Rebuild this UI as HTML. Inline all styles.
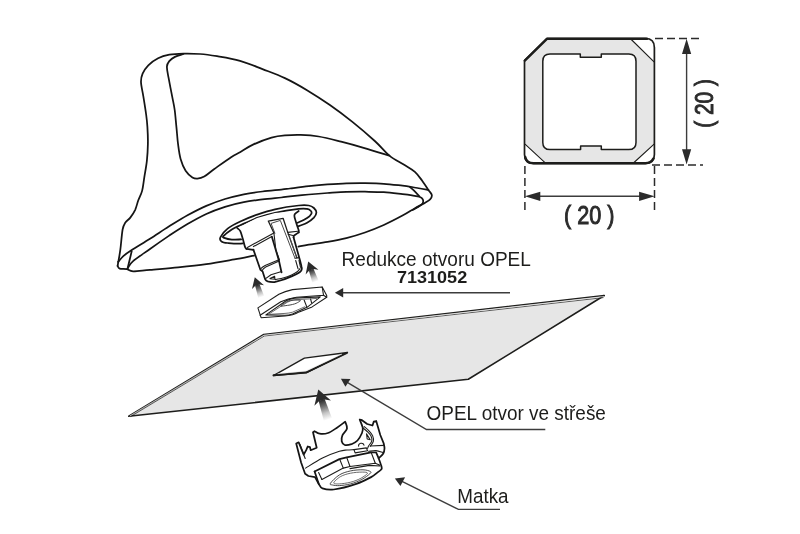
<!DOCTYPE html>
<html><head><meta charset="utf-8"><title>Redukce otvoru OPEL</title>
<style>
html,body{margin:0;padding:0;background:#fff}
svg{display:block;will-change:transform}
text{font-family:"Liberation Sans",sans-serif;fill:#1d1d1b}
.l{fill:none;stroke:#151515;stroke-width:1.75;stroke-linecap:round;stroke-linejoin:round}
.t{fill:none;stroke:#1d1d1b;stroke-width:1.1;stroke-linecap:round;stroke-linejoin:round}
.w{fill:#fff;stroke:#151515;stroke-width:1.75;stroke-linecap:round;stroke-linejoin:round}
.wt{fill:#fff;stroke:#1d1d1b;stroke-width:1.1;stroke-linecap:round;stroke-linejoin:round}
.d{fill:none;stroke:#2b2b2b;stroke-width:1.5;stroke-dasharray:8 4}
.k{fill:#2b2b2b;stroke:none}
.g{fill:none;stroke:#3c3c3c;stroke-width:1.4}
</style></head><body>
<svg width="800" height="534" viewBox="0 0 800 534">
<g id="profile">
<path d="M546.9 38.5H645.5Q654.4 38.5 654.4 47.5V154.5Q654.4 163.5 645.4 163.5H533.5Q524.5 163.5 524.5 154.5V60.6Z" fill="#e6e6e6" stroke="none"/>
<path d="M631.3 39.5H645.5Q653.6 39.5 653.6 47.5V61.6Z" fill="#fff"/>
<path d="M653.8 144.4V154.5Q653.8 162.7 645.4 162.7H634Z" fill="#fff"/>
<path d="M525.3 144.4V154.5Q525.3 162.7 533.5 162.7H545Z" fill="#fff"/>
<path class="t" d="M631.3 39.5L653.8 61.6M653.8 144.4L634 162.5M525.3 144.4L545 162.7"/>
<path d="M546.9 38.5H645.5Q654.4 38.5 654.4 47.5V154.5Q654.4 163.5 645.4 163.5H533.5Q524.5 163.5 524.5 154.5V60.6Z" fill="none" stroke="#1d1d1b" stroke-width="1.7" stroke-linejoin="round"/>
<path d="M647 38.8H546.9L524.8 60.6" fill="none" stroke="#1d1d1b" stroke-width="2.4" stroke-linejoin="round" stroke-linecap="round"/>
<path d="M525.2 157Q526.5 163.2 533.5 163.2H645.4Q651 163.2 653.4 158.5" fill="none" stroke="#1d1d1b" stroke-width="2.5" stroke-linejoin="round" stroke-linecap="round"/>
<path d="M550 54.1H580.3V57.3H601.3V54.1H628.8Q636 54.1 636 61.3V142.4Q636 149.6 628.8 149.6H601.3V145.9H580.6V149.6H550Q542.8 149.6 542.8 142.4V61.3Q542.8 54.1 550 54.1Z" fill="#fff" stroke="#1d1d1b" stroke-width="1.5" stroke-linejoin="round"/>
</g>
<g id="dims">
<path class="d" d="M655 38.6H703"/>
<path class="d" d="M652 164.9H703"/>
<path class="d" d="M524.9 166V212"/>
<path class="d" d="M654.5 166V214"/>
<path class="g" d="M686.6 48V155M534 196.3H645"/>
<path class="k" d="M686.6 38.8L682 54H691.2ZM686.6 164.5L682 149.3H691.2ZM524.8 196.3L540.3 191.7V200.9ZM654.6 196.3L639.1 191.7V200.9Z"/>
<text x="589.3" y="224.2" font-size="26" text-anchor="middle" textLength="50.5" lengthAdjust="spacingAndGlyphs" style="fill:#2b2b2b;stroke:#2b2b2b;stroke-width:1">( 20 )</text>
<text transform="translate(713.2 103.4) rotate(-90)" x="0" y="0" font-size="26" text-anchor="middle" textLength="48.5" lengthAdjust="spacingAndGlyphs" style="fill:#2b2b2b;stroke:#2b2b2b;stroke-width:1">( 20 )</text>
</g>
<g id="plate">
<path d="M128.8 416.3L263.8 334.5L604.3 295.5L468.3 379.3Z" fill="#e6e6e6" stroke="#1d1d1b" stroke-width="1.6" stroke-linejoin="round"/>
<path d="M130.5 416.6L264.3 336L603.5 297.6" fill="none" stroke="#1d1d1b" stroke-width=".7"/>
<path d="M129.8 416L264 335.2L604 296.5" fill="none" stroke="#f4f4f4" stroke-width=".7"/>
<path d="M273.4 375.6L304.4 358.1L347.5 352.5L306.3 372.8Z" fill="#fff" stroke="#1d1d1b" stroke-width="1.3" stroke-linejoin="round"/>
<path d="M273.6 375.3L306.2 372.3L347 352.8" fill="none" stroke="#1d1d1b" stroke-width="2" stroke-linejoin="round" stroke-linecap="round"/>
<path d="M277.5 373.7L305.8 371L342 354" fill="none" stroke="#e8e8e8" stroke-width=".6"/>
</g>
<g id="labels">
<text x="341.6" y="266" font-size="19.3" textLength="189.3" lengthAdjust="spacingAndGlyphs">Redukce otvoru OPEL</text>
<text x="396.9" y="282.7" font-size="16.6" font-weight="bold" textLength="70.3" lengthAdjust="spacingAndGlyphs">7131052</text>
<text x="426.6" y="420.2" font-size="19.3" textLength="179.3" lengthAdjust="spacingAndGlyphs">OPEL otvor ve střeše</text>
<text x="457.3" y="503" font-size="19.3" textLength="51.3" lengthAdjust="spacingAndGlyphs">Matka</text>
<path class="g" d="M342 292.7H510"/>
<path class="k" d="M334.9 292.7L343.2 288V297.4Z"/>
<path class="g" d="M545.3 429.5H426.5L346 381.6"/>
<path class="k" d="M340.9 378.7L350.5 378.9L345.4 386.8Z"/>
<path class="g" d="M500 509.4H458.4L400 480.4"/>
<path class="k" d="M394.9 478.4L405.1 477.3L400.4 485.9Z"/>
</g>
<g id="antenna">
<path class="w" d="M118.3 261.8C118.7 259.7 119.7 254.6 120.4 249.2C121.1 243.8 121.8 233.9 122.6 229.5C123.4 225.1 124.1 224.5 125.4 222.5C126.7 220.5 128.7 219.7 130.3 217.6C131.9 215.5 133.8 212.7 135.2 209.8C136.5 206.9 137.2 203.2 138.4 200.0C139.6 196.8 141.1 194.7 142.1 190.9C143.1 187.1 143.5 182.5 144.3 177.4C145.1 172.3 146.3 166.2 146.9 160.6C147.5 155.0 147.8 149.3 147.9 143.7C148.0 138.1 147.7 131.7 147.4 126.9C147.1 122.1 146.9 120.1 146.2 115.0C145.5 109.9 144.2 101.7 143.3 96.2C142.4 90.7 141.1 85.8 141.0 82.1C140.9 78.3 141.4 76.5 142.6 73.7C143.8 70.9 145.7 67.9 148.3 65.3C150.9 62.7 154.6 60.1 158.1 58.3C161.6 56.5 165.1 55.5 169.3 54.7C173.5 53.9 178.2 53.7 183.4 53.6C188.6 53.5 194.6 53.6 200.2 54.0C205.8 54.4 210.5 55.1 217.1 56.2C223.7 57.3 232.4 58.6 240.0 60.8C247.6 62.9 255.0 66.2 262.5 69.1C270.0 72.0 277.4 74.5 284.9 78.1C292.4 81.6 299.9 85.9 307.4 90.4C314.9 94.9 322.4 99.8 329.9 105.0C337.4 110.2 344.9 115.9 352.4 121.9C359.9 127.9 368.6 135.4 374.8 141.0C381.0 146.6 384.6 151.7 389.4 155.6C394.2 159.5 399.4 161.9 403.7 164.6C407.9 167.3 411.8 169.2 414.9 171.9C417.9 174.6 419.8 177.5 422.0 180.5C424.2 183.5 426.8 187.5 428.4 189.9C430.0 192.3 431.5 193.4 431.8 195.0C432.1 196.6 431.4 198.0 430.1 199.4C428.8 200.8 426.4 201.9 423.9 203.4C421.4 204.9 418.6 206.2 415.0 208.2C411.4 210.2 407.7 212.8 402.5 215.6C397.3 218.4 390.1 222.2 383.8 225.0C377.6 227.8 371.2 230.3 365.0 232.5C358.8 234.7 352.6 236.5 346.3 238.1C340.1 239.7 333.8 240.8 327.5 241.9C321.2 243.0 313.7 243.9 308.8 244.7C303.9 245.5 300.1 246.3 298.4 246.6"/>
<path class="l" d="M118.3 261.8L117.6 266"/>
<path class="l" d="M117.6 266.0C117.9 266.4 118.2 268.1 119.7 268.6C121.2 269.1 124.6 268.8 126.8 269.2C129.0 269.6 129.2 271.2 133.1 271.3C137.0 271.4 142.5 270.5 150.0 269.9C157.5 269.2 168.7 268.4 178.1 267.4C187.5 266.4 196.9 265.4 206.3 264.1C215.7 262.8 226.4 260.8 234.4 259.4C242.4 258.0 250.8 256.2 254.1 255.6"/>
<path class="l" d="M183.4 54.0C182.0 54.5 177.2 55.7 174.9 56.9C172.6 58.1 170.6 59.5 169.3 61.1C168.0 62.7 167.0 63.9 166.9 66.7C166.8 69.5 167.7 73.0 168.6 77.9C169.5 82.8 171.1 90.9 172.1 96.2C173.1 101.5 174.0 104.9 174.7 110.0C175.4 115.1 175.8 121.3 176.4 126.9C177.0 132.5 177.3 138.4 178.0 143.7C178.7 149.0 179.3 154.4 180.6 158.9C181.9 163.4 183.6 167.6 185.6 170.7C187.6 173.8 190.4 176.1 192.4 177.4C194.4 178.7 195.4 178.7 197.4 178.6C199.4 178.5 201.4 178.2 204.2 176.6C207.0 175.0 209.8 172.2 214.3 169.0C218.8 165.8 226.8 160.0 231.1 157.2C235.4 154.4 236.3 154.3 240.0 152.2C243.7 150.1 248.2 146.8 253.5 144.4C258.8 142.0 266.3 139.1 271.5 137.6C276.7 136.1 280.0 135.8 284.9 135.4C289.8 135.0 295.1 134.7 300.7 134.9C306.3 135.1 312.0 135.4 318.7 136.5C325.4 137.6 333.6 139.8 341.1 141.7C348.6 143.6 355.6 145.5 363.6 147.8C371.7 150.1 385.1 154.3 389.4 155.6"/>
<path class="l" d="M118.3 261.8C119.1 260.9 121.2 258.1 123.3 256.2C125.4 254.3 126.5 253.5 131.0 250.6C135.4 247.7 143.7 242.8 150.0 238.8C156.3 234.8 162.6 230.5 168.8 226.6C175.1 222.7 181.2 218.8 187.5 215.3C193.8 211.9 200.1 208.6 206.3 205.9C212.6 203.2 218.8 200.9 225.0 199.0C231.2 197.1 237.6 195.6 243.8 194.3C250.1 193.1 256.2 192.3 262.5 191.5C268.8 190.7 276.7 190.1 281.3 189.6C285.9 189.1 285.4 189.1 290.0 188.5C294.6 187.9 302.6 186.8 308.8 186.1C315.1 185.4 321.2 184.8 327.5 184.4C333.8 184.0 340.1 183.6 346.3 183.4C352.6 183.2 358.8 183.1 365.0 183.2C371.2 183.3 377.6 183.4 383.8 183.8C390.1 184.2 397.8 185.2 402.5 185.7C407.2 186.2 407.6 186.3 411.9 187.0C416.2 187.7 425.6 189.4 428.4 189.9"/>
<path class="l" d="M127.5 268.8C127.6 268.6 127.3 268.7 128.2 267.4C129.1 266.1 129.5 264.2 133.1 261.1C136.7 258.0 144.1 253.2 150.0 249.0C155.9 244.8 162.6 240.1 168.8 235.9C175.1 231.8 181.2 227.8 187.5 224.1C193.8 220.4 200.1 216.9 206.3 214.0C212.6 211.1 218.8 208.9 225.0 206.9C231.2 204.9 237.6 203.4 243.8 202.2C250.1 200.9 256.2 200.2 262.5 199.4C268.8 198.6 276.7 198.0 281.3 197.5C285.9 197.0 285.4 196.9 290.0 196.4C294.6 195.9 302.6 195.1 308.8 194.5C315.1 193.9 321.2 193.4 327.5 193.0C333.8 192.6 340.1 192.1 346.3 191.9C352.6 191.7 358.8 191.6 365.0 191.7C371.2 191.8 377.6 191.8 383.8 192.2C390.1 192.6 397.8 193.6 402.5 194.1C407.2 194.6 409.2 194.9 412.0 195.4C414.8 195.9 417.6 196.1 419.4 196.8C421.2 197.5 422.3 198.3 422.8 199.4C423.3 200.5 423.4 202.1 422.6 203.4C421.8 204.7 419.6 205.9 418.0 207.0C416.4 208.1 413.6 209.5 412.7 210.0"/>
<path class="l" d="M131.7 251.3L127.5 268.8"/>
<path class="l" d="M409.9 187.0C410.5 187.6 412.2 188.8 413.8 190.3C415.4 191.9 418.5 195.3 419.4 196.3"/>
</g>
<g id="mount">
<path class="w" d="M220.5 237.1C221.6 235.0 224.3 231.2 227.6 228.6C230.9 226.0 235.4 223.8 240.3 221.5C245.2 219.2 251.3 216.6 257.1 214.6C262.9 212.6 268.1 210.8 275.0 209.3C281.9 207.8 293.1 206.1 298.7 205.5C304.3 204.9 306.3 205.1 308.8 205.5C311.3 205.9 312.6 206.8 313.9 208.0C315.2 209.2 316.4 211.0 316.4 212.6C316.4 214.2 315.4 216.0 313.9 217.7C312.3 219.4 309.6 221.4 307.1 222.8C304.6 224.2 303.2 224.4 298.7 226.1C294.2 227.8 286.4 230.7 280.0 233.0C273.6 235.3 266.2 238.3 260.0 240.0C253.8 241.7 248.2 242.9 242.8 243.4C237.4 243.9 231.2 243.3 227.6 243.0C224.0 242.7 222.5 242.3 221.3 241.3C220.1 240.3 219.4 239.2 220.5 237.1Z"/>
<path class="w" d="M223.4 236.2C224.7 234.8 229.0 231.3 231.8 229.5C234.6 227.7 236.1 227.2 240.3 225.3C244.5 223.4 251.3 220.0 257.1 217.9C262.9 215.8 268.1 214.4 275.0 212.9C281.9 211.4 293.3 209.6 298.7 208.9C304.1 208.2 305.1 208.6 307.1 208.9C309.1 209.2 310.2 210.2 310.9 211.0C311.6 211.8 311.9 212.7 311.3 213.9C310.7 215.1 309.2 216.7 307.1 218.1C305.0 219.5 303.2 220.4 298.7 222.3C294.2 224.2 286.4 227.2 280.0 229.5C273.6 231.8 266.2 234.4 260.0 236.0C253.8 237.6 247.5 238.6 242.8 239.2C238.1 239.8 234.9 239.8 231.8 239.6C228.7 239.4 225.7 238.5 224.3 237.9C222.9 237.3 222.2 237.6 223.4 236.2Z"/>
<path d="M237.3 228.2L245 246.9L246.5 248.9L253.4 249.8L260.4 269.7L262.6 271.4L265.2 279.4Q267 282.3 274.4 282L283.7 279.4L292.1 276.1L298.9 272.7Q302 270.5 301.4 267L293.6 237.4L298.7 232.4V230.3L294.5 216.9Q294.5 213 298.7 211L275 212.9L257.1 217.9Z" fill="#fff" stroke="none"/>
<path class="l" d="M237.3 228.2C237.8 228.7 239.4 229.4 240.3 231.2C241.2 233.0 242.0 236.2 242.8 238.8C243.6 241.4 244.4 245.2 245.0 246.9C245.6 248.6 246.2 248.6 246.5 248.9"/>
<path class="l" d="M246.5 248.9L253.4 249.8"/>
<path class="l" d="M298.7 211.0C298.1 211.5 295.6 212.9 294.9 213.9C294.2 214.9 294.1 215.0 294.5 216.9C294.9 218.8 296.3 223.1 297.0 225.3C297.7 227.5 298.4 229.1 298.7 230.3C299.0 231.5 298.7 232.1 298.7 232.4"/>
<path class="l" d="M298.7 232.4L293.8 235.8L293.6 237.4"/>
<path class="t" d="M287.8 232.4L297.8 231.2M288.2 234.3L293.8 235.8"/>
<path class="t" d="M247.4 247.4L262 239.4L273.9 233.1"/>
<path class="t" d="M253.4 246.6L271.8 236.6"/>
<path d="M273.9 233.1L268.3 221.1L283.1 218.3L288 233.1L297.1 258.3" fill="none" stroke="#1d1d1b" stroke-width="1.3" stroke-linejoin="round"/>
<path d="M271.1 223.4L280.3 220.4L295 258.3" fill="none" stroke="#333" stroke-width=".9" stroke-linejoin="round"/>
<path d="M271.1 223.4L275 233.6" fill="none" stroke="#333" stroke-width=".9"/>
<path d="M289.6 237.3L296.4 256.9" fill="none" stroke="#555" stroke-width=".8"/>
<path class="l" d="M253.4 249.6L260.4 269.7L262.6 271.4L265.2 279.4Q266.8 282.4 274.4 282.1Q284 280 292.1 276.1Q297 274 298.9 272.7Q302.6 270.5 301.6 267L300.1 260.8L293.6 237.4"/>
<path class="t" d="M260.5 269Q262 267 265.1 265.4L278.9 259.8M261.8 271Q263 268.6 265.7 267L279.2 261.1"/>
<path class="l" d="M271.8 236.6L278.9 260.5L281.5 272.3"/>
<path class="t" d="M273.9 233.1L275.9 250L279.4 259.6"/>
<path class="t" d="M265.6 278.6L271 274.8L281.6 271.4"/>
<path class="t" d="M275.3 279.6C276.8 279.3 281.2 278.6 284.0 277.8C286.8 277.0 289.9 275.8 292.1 274.8C294.3 273.8 295.9 272.8 297.2 271.8C298.5 270.8 299.5 269.1 300.0 268.6"/>
<path class="t" d="M270 278.6L274.6 276.2L275 279.2Z"/>
<path class="t" d="M295 258.3L299.4 257.6M295.7 260.5L298 268.6M299 260.3L300.5 267.3"/>
</g>
<g id="reducer">
<path class="wt" d="M257.9 307.9L278.9 294.3Q285 291.2 292.5 289.6L322.2 287L326.7 295.5V297.3L312.1 306.9L299.2 311.9Q293 315.6 285 316L261.1 317.7Z"/>
<path class="t" d="M260.1 315.3L280.8 301.8Q288 298.4 296.4 297.3L323.5 295.2L326.7 297.3M322.2 287L323.5 295.2"/>
<path class="t" d="M265.9 314.9L286.1 300.7Q290 298.8 294.6 298.1L320.3 296.9L307.4 307.1L292.5 314Q289 315.2 285 315.2Z"/>
<path d="M268.6 314.2L287.2 302.3Q291 300.3 294.8 299.8L317 298.4M270 314.3L285 313.4Q289 313.2 292.5 312.2L305.2 306.6" fill="none" stroke="#444" stroke-width=".8"/>
<path class="t" d="M304.2 300.2L306.9 307.1M310.6 299.1L311.6 302.8"/>
<path d="M280.8 306.0C280.9 305.4 283.9 303.3 285.5 302.4C287.1 301.5 288.6 300.8 290.4 300.4C292.1 300.0 294.3 300.0 296.0 300.0C297.7 300.0 300.1 300.2 300.4 300.6C300.6 301.0 298.5 302.1 297.5 302.6C296.5 303.2 295.9 303.5 294.6 303.9C293.4 304.3 291.6 304.7 290.0 305.0C288.4 305.3 286.6 305.5 285.1 305.7C283.6 305.9 280.7 306.6 280.8 306.0Z" fill="none" stroke="#333" stroke-width=".9"/>
</g>
<g id="nut">
<path class="w" d="M296.2 443.5L298.7 442.3L303.7 454.7L306.2 450.2L307.7 446.5L310.0 447.2L310.7 450.2L316.7 447.7L313.0 432.2L314.5 431.2C315.4 431.6 317.4 433.4 319.7 433.7C321.9 434.0 325.1 434.0 328.0 433.0C330.9 432.0 334.1 429.6 337.0 427.7C339.9 425.8 343.8 422.7 345.2 421.7C345.5 422.8 347.4 426.2 347.0 428.5C346.6 430.8 343.4 433.1 342.5 435.2C341.6 437.3 341.3 439.6 341.7 441.2C342.1 442.8 343.1 444.5 344.7 445.0C346.3 445.5 349.4 444.9 351.5 444.2C353.6 443.4 355.8 442.4 357.5 440.5C359.2 438.6 361.1 435.1 362.0 433.0C362.9 430.9 363.1 429.9 362.7 427.7C362.3 425.4 360.2 420.9 359.7 419.5L362 420.2L367.2 424L372.5 425.5L373.7 421.7L376.2 421L380.3 435L383.7 443.4C383.8 444.2 384.6 446.8 384.5 448.5C384.4 450.2 384.3 451.9 383.3 453.5C382.3 455.1 379.4 457.4 378.6 458.2C379.1 459.7 381.2 465.1 381.6 467.0C382.0 468.9 382.0 468.5 381.2 469.5C380.4 470.5 378.7 471.6 377.0 472.9C375.3 474.2 374.6 475.3 371.1 477.1C367.7 478.9 362.5 481.8 356.3 483.9C350.1 486.0 339.4 488.8 333.8 489.5C328.2 490.2 325.0 489.3 322.5 488.4C320.0 487.5 319.4 484.7 318.8 484.0L315 477.1L308.4 476L305.1 473.8L301.1 462.5Z"/>
<path class="t" d="M305.6 468.1C308.4 466.4 316.9 460.8 322.5 458.0C328.1 455.2 335.3 452.6 339.4 451.3C343.5 450.0 344.6 450.3 347.0 450.0C349.4 449.7 352.8 449.7 354.0 449.6"/>
<path class="t" d="M354 449.6L366.4 447.9L367.5 450.7L355.1 452.9Z"/>
<path class="t" d="M370.2 446L383.6 445.4"/>
<path class="t" d="M368.6 451.3C369.8 451.2 373.7 450.4 376.0 450.6C378.3 450.8 381.5 452.1 382.6 452.4"/>
<path class="t" d="M362.7 427.7C363.4 428.3 365.8 430.1 367.2 431.5C368.6 432.9 370.2 434.4 371.0 436.0C371.8 437.6 372.1 439.6 371.7 441.2C371.3 442.8 369.4 444.5 368.7 445.7C368.0 446.9 367.8 447.9 367.6 448.4"/>
<path class="t" d="M364.2 426.6C365.0 427.3 367.4 429.1 368.8 430.6C370.2 432.1 371.9 433.8 372.6 435.6C373.4 437.4 373.7 439.6 373.3 441.4C372.9 443.2 370.9 445.4 370.4 446.2"/>
<path class="t" d="M366.5 433.7L370.2 439.7L367.2 439Z"/>
<path class="t" d="M358.6 446.2A2.7 2.4 0 0 1 364 445.2"/>
<path class="t" d="M303.7 454.7L305.2 458.5M300 444.5L304.6 457"/>
<path class="l" d="M314.6 471.5L339.4 459.1L346.7 457.4L371.1 452.3L376.1 452.3L378.6 458.2"/>
<path class="l" d="M314.6 471.5L318.8 484"/>
<path class="t" d="M318.6 472.6L321.9 479.4"/>
<path class="t" d="M321.9 479.4L343.3 468.1L350 466.5L375.3 463.2L379.5 464.9M350 468.6L369.4 465.4L379.9 466"/>
<path class="t" d="M339.9 459.7L343.3 468.1M346.7 457.4L350 466.5M371.1 452.3L375.3 463.2"/>
<path d="M330.4 483.3C331.5 481.6 336.0 477.0 339.4 474.9C342.8 472.8 346.7 471.8 350.6 470.9C354.5 470.0 359.7 469.7 363.0 469.8C366.3 469.9 369.2 470.8 370.3 471.5C371.4 472.2 371.2 472.5 369.8 473.8C368.4 475.1 365.1 477.7 361.9 479.4C358.7 481.1 354.4 482.9 350.6 483.9C346.9 484.9 342.4 485.4 339.4 485.6C336.4 485.8 334.1 485.4 332.6 485.0C331.1 484.6 329.3 485.0 330.4 483.3Z" fill="none" stroke="#333" stroke-width=".9"/>
<path d="M333.8 482.8C334.0 481.6 337.7 478.2 340.5 476.6C343.3 475.0 347.0 473.9 350.6 473.2C354.2 472.4 359.1 472.1 361.9 472.1C364.7 472.1 367.7 472.2 367.5 473.2C367.3 474.2 363.6 476.8 360.8 478.3C358.0 479.8 354.2 481.3 350.6 482.2C347.0 483.1 342.2 483.8 339.4 483.9C336.6 484.0 333.6 484.0 333.8 482.8Z" fill="none" stroke="#444" stroke-width=".8"/>
</g>
<defs><linearGradient id="fade" x1="0" y1="0" x2="0" y2="1"><stop offset="0" stop-color="#2b2b2b"/><stop offset=".3" stop-color="#2b2b2b" stop-opacity=".7"/><stop offset=".65" stop-color="#2b2b2b" stop-opacity=".28"/><stop offset="1" stop-color="#2b2b2b" stop-opacity="0"/></linearGradient></defs>
<g transform="translate(254.8 277.2) rotate(-18.0) scale(1.00)"><path d="M-2.3 8L-3.1 21H3.1L2.3 8Z" fill="url(#fade)"/><path class="k" d="M0 0L-6.3 10.4L-2.2 8.3H2.2L6.3 10.4Z"/></g>
<g transform="translate(308.2 261.5) rotate(-20.0) scale(1.08)"><path d="M-2.3 8L-3.1 20H3.1L2.3 8Z" fill="url(#fade)"/><path class="k" d="M0 0L-6.3 10.4L-2.2 8.3H2.2L6.3 10.4Z"/></g>
<g transform="translate(318.3 389.4) rotate(-17.7) scale(1.38)"><path d="M-2.3 8L-3.1 23H3.1L2.3 8Z" fill="url(#fade)"/><path class="k" d="M0 0L-6.3 10.4L-2.2 8.3H2.2L6.3 10.4Z"/></g>
</svg>
</body></html>
